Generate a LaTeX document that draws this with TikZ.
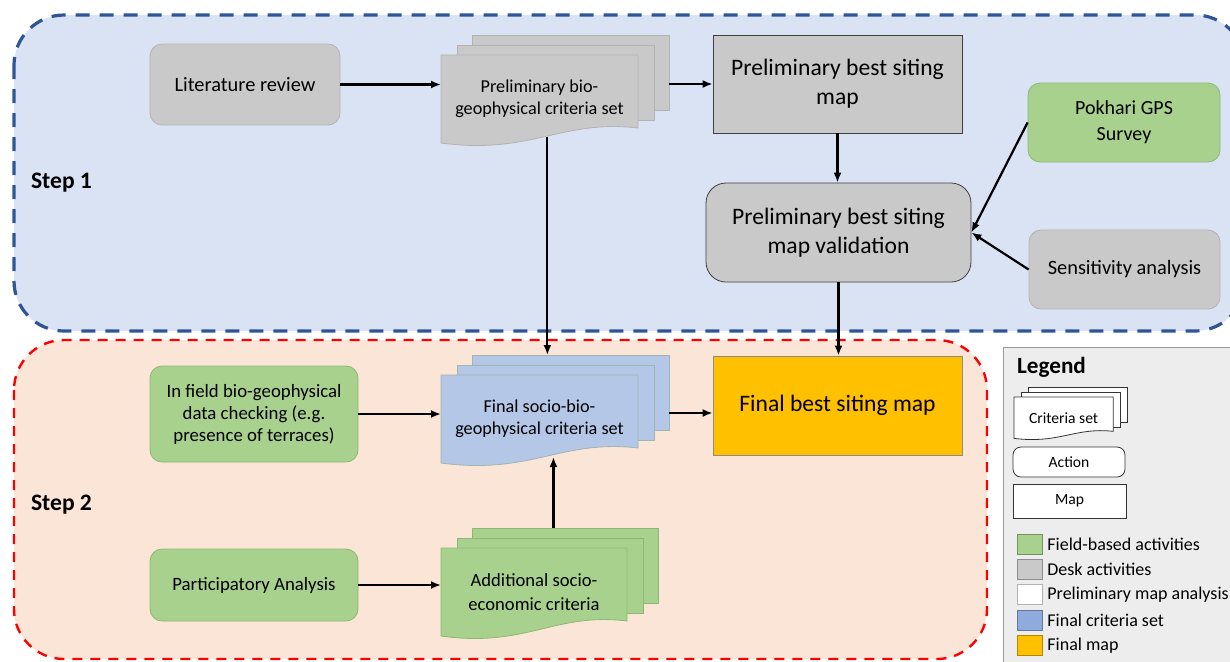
\documentclass[tikz,border=0pt]{standalone}
\usepackage{fontspec}
\setmainfont{Carlito}
\usetikzlibrary{arrows.meta}

\definecolor{stepblue}{HTML}{2F5597}
\definecolor{stepbluefill}{HTML}{DAE3F3}
\definecolor{stepred}{HTML}{FF0000}
\definecolor{stepredfill}{HTML}{FBE5D6}
\definecolor{deskgray}{HTML}{C9C9C9}
\definecolor{deskline}{HTML}{B3B3B3}
\definecolor{fieldgreen}{HTML}{A9D18E}
\definecolor{fieldline}{HTML}{8DB874}
\definecolor{critblue}{HTML}{B4C7E7}
\definecolor{critline}{HTML}{9FB5B0}
\definecolor{legblue}{HTML}{8FAADC}
\definecolor{mapyellow}{HTML}{FFC000}
\definecolor{legendgray}{HTML}{EDEDED}

\tikzset{
  arr/.style={-{Latex[length=5pt,width=4pt]}, line width=1.1pt},
  actionbox/.style={rectangle, rounded corners=6pt, draw, align=center,
    font=\fontsize{9.4}{11}\selectfont},
  deskbox/.style={actionbox, fill=deskgray, draw=deskline},
  fieldbox/.style={actionbox, fill=fieldgreen, draw=fieldline},
  mapbox/.style={rectangle, draw=black!75, fill=deskgray, align=center,
    font=\fontsize{11.8}{14.5}\selectfont},
  critext/.style={align=center, font=\fontsize{9.1}{11}\selectfont},
  steplabel/.style={font=\bfseries\fontsize{11.8}{13}\selectfont}
}

% stack of criteria sheets: [scope options]{name}{top left of front sheet}{width}{fill}{border}{text}
\newcommand{\critstack}[7][]{%
  \begin{scope}[shift={#3}, #1]
    \draw[fill=#5, draw=#6] (31,-20) rectangle (#4+31,55);
    \draw[fill=#5, draw=#6] (16,-10) rectangle (#4+16,65);
    \draw[fill=#5, draw=#6] (0,0) -- (#4,0) -- (#4,73)
      .. controls (0.61*#4,64) and (0.46*#4,100) .. (0,88) -- cycle;
    \coordinate (#2-w) at (0,38);
    \coordinate (#2-e) at (#4+31,38);
    \coordinate (#2-n) at (0.54*#4,-20);
    \coordinate (#2-s) at (0.54*#4,82);
    \node[critext] (#2) at (0.5*#4,44) {#7};
  \end{scope}}

\begin{document}
\begin{tikzpicture}[x=0.5pt, y=-0.5pt]
  \useasboundingbox (0,0) rectangle (1230,661);

  % step frames and legend frame
  \draw[stepblue, fill=stepbluefill, line width=1.6pt, dash pattern=on 7pt off 5pt,
    rounded corners=25pt] (14,15) rectangle (1245,331);
  \draw[stepred, fill=stepredfill, line width=1.2pt, dash pattern=on 5pt off 4pt,
    rounded corners=25pt] (14,340) rectangle (987,659);
  \draw[black!40, fill=legendgray] (1003,347) rectangle (1250,680);

  \node[steplabel, anchor=west] (step1) at (24,183) {Step 1};
  \node[steplabel, anchor=west] (step2) at (24,505) {Step 2};

  % step 1
  \node[deskbox, font=\fontsize{10.2}{12}\selectfont, minimum width=95pt, minimum height=40.5pt] (lit) at (245,84.5) {Literature review};
  \critstack{pbg}{(441,55)}{197}{deskgray}{deskline}{Preliminary bio-\\geophysical criteria set}
  \node[mapbox, minimum width=124.5pt, minimum height=49pt] (map) at (837.5,84) {Preliminary best siting\\map};
  \node[mapbox, rounded corners=10pt, minimum width=132.5pt, minimum height=49.5pt] (val) at (838.5,232.5) {Preliminary best siting\\map validation};
  \node[fieldbox, font=\fontsize{10}{13}\selectfont, minimum width=96pt, minimum height=39.5pt] (gps) at (1124,122.5) {Pokhari GPS\\Survey};
  \node[deskbox, font=\fontsize{10.2}{12}\selectfont, minimum width=95.5pt, minimum height=39.5pt] (sens) at (1124.5,269.5) {Sensitivity analysis};

  % step 2
  \node[fieldbox, minimum width=104pt, minimum height=48pt] (inf) at (254,414) {In field bio-geophysical\\data checking (e.g.\\presence of terraces)};
  \node[fieldbox, minimum width=104pt, minimum height=36pt] (part) at (254,585) {Participatory Analysis};
  \critstack{fin}{(441,375)}{197}{critblue}{critline}{Final socio-bio-\\geophysical criteria set}
  \critstack[critext/.append style={font=\fontsize{9.3}{12}\selectfont}]{add}{(441,548)}{186}{fieldgreen}{fieldline}{Additional socio-\\economic criteria}
  \node[mapbox, fill=mapyellow, draw=black!45, minimum width=124.5pt, minimum height=49.5pt,
    font=\fontsize{11.8}{14}\selectfont] (fmap) at (837.5,405.5) {Final best siting map};

  % connectors
  \draw[arr] (lit.east) -- (lit.east -| pbg-w);
  \draw[arr] (map.west -| pbg-e) -- (map.west);
  \draw[arr] (pbg-s) -- (fin-n);
  \draw[arr] (map.south) -- (map.south |- val.north);
  \draw[arr] (val.south) -- (val.south |- fmap.north);
  \draw[arr] (gps.west) -- (val.east);
  \draw[arr] (sens.west) -- (val.east);
  \draw[arr] (inf.east) -- (inf.east -| fin-w);
  \draw[arr] (part.east) -- (part.east -| add-w);
  \draw[arr] ([xshift=6pt]add-n) -- ([xshift=6pt]add-n |- fin-s);
  \draw[arr] (fin-e) -- (fin-e -| fmap.west);

  % legend
  \node[font=\bfseries\fontsize{11.6}{13}\selectfont, anchor=west] (legtitle) at (1010,367) {Legend};
  \critstack[scale=0.47, critext/.append style={font=\fontsize{7.8}{9}\selectfont}]{legcrit}{(1014,397)}{211}{white}{black!80}{Criteria set}
  \node[actionbox, fill=white, draw=black!80, rounded corners=4pt, minimum width=56pt, minimum height=15pt,
    font=\fontsize{7.8}{9}\selectfont] (legact) at (1069,462) {Action};
  \node[rectangle, draw=black!80, fill=white, minimum width=56.5pt, minimum height=17pt,
    font=\fontsize{7.8}{9}\selectfont] (legmap) at (1069.5,501) {Map};
  \foreach \col/\txt [count=\i] in {fieldgreen/Field-based activities, deskgray/Desk activities,
      white/Preliminary map analysis, legblue/Final criteria set, mapyellow/Final map}{
    \node[draw=\col!70!black, fill=\col, minimum width=12.5pt, minimum height=10pt, inner sep=0]
      (sw\i) at (1030,{544+25.3*(\i-1)}) {};
    \node[anchor=west, inner sep=0, font=\fontsize{9}{10}\selectfont] (key\i) at (1047,{544+25.3*(\i-1)}) {\txt};
  }
\end{tikzpicture}
\end{document}
